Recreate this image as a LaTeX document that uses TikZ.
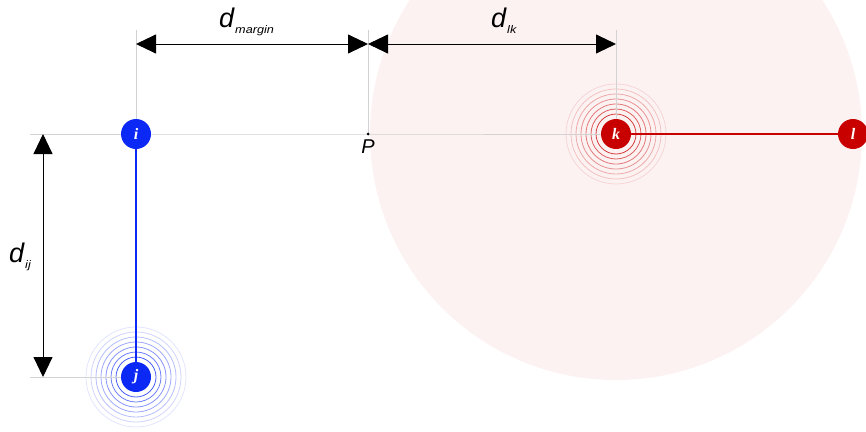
\documentclass[tikz,border=0pt]{standalone}
\usepackage{fontspec}
\setmainfont{Liberation Serif}
\newfontfamily\dimfont{Liberation Sans}
\usetikzlibrary{arrows.meta}
\definecolor{atomblue}{RGB}{12,40,245}
\definecolor{atomred}{RGB}{200,0,0}
\tikzset{
  atom/.style={circle,minimum size=30pt,inner sep=0pt,text=white,
    font=\fontsize{16}{16}\selectfont\bfseries\itshape},
  guide/.style={gray!35,line width=0.7pt},
  dimline/.style={line width=0.9pt,
    {Triangle[length=20pt,width=19pt]}-{Triangle[length=20pt,width=19pt]}},
  dimlabel/.style={inner sep=0pt,anchor=base west,
    font=\dimfont\itshape\fontsize{27}{27}\selectfont},
}
\newcommand{\dsub}[1]{d\kern1pt\raisebox{-6.5pt}{\fontsize{11}{11}\selectfont\scalebox{1.15}[1]{#1}}}
\begin{document}
\begin{tikzpicture}[x=1pt,y=-1pt]
\useasboundingbox (0,0) rectangle (866,431);
\clip (0,0) rectangle (866,431);
% cutoff sphere round k
\fill[atomred,opacity=0.05] (616,134) circle (246);
\foreach \r/\o in {20/0.75,25/0.6,30/0.5,35/0.4,40/0.3,45/0.2,50/0.12}{
  \draw[atomred,opacity=\o,line width=0.8pt] (616,134) circle (\r);
  \draw[atomblue,opacity=\o,line width=0.8pt] (136,377) circle (\r);
}
\node[atom,fill=atomblue] (i) at (136,134) {i};
\node[atom,fill=atomblue] (j) at (136,377) {j};
\node[atom,fill=atomred] (k) at (616,134) {k};
\node[atom,fill=atomred] (l) at (853,134) {l};
\coordinate (P) at (368,134);
% guide lines
\coordinate (left) at (30,134);
\coordinate (leftj) at (30,377);
\coordinate (topi) at (136,30);
\coordinate (topP) at (368,30);
\coordinate (topk) at (616,30);
\draw[guide] (left) -- (i) (i) -- (P) -- (k);
\draw[guide] (leftj) -- (j);
\draw[guide] (topi) -- (i);
\draw[guide] (topP) -- (P);
\draw[guide] (topk) -- (k);
\fill (P) circle (1.5);
\node[inner sep=0pt,font=\dimfont\itshape\fontsize{20}{20}\selectfont,below=6pt] (Plabel) at (P) {P};
% bonds
\draw[atomblue,line width=1.3pt] (i) -- (j);
\draw[atomred,line width=1.3pt] (k) -- (l);
% dimensions
\coordinate (mi) at (136,44);
\coordinate (mP) at (368,44);
\coordinate (mk) at (616,44);
\coordinate (vi) at (43,134);
\coordinate (vj) at (43,377);
\draw[dimline] (mi) -- (mP);
\draw[dimline] (mP) -- (mk);
\draw[dimline] (vi) -- (vj);
\node[dimlabel] (dmargin) at (219,27) {\dsub{margin}};
\node[dimlabel] (dlk) at (491,27) {\dsub{lk}};
\node[dimlabel] (dij) at (9,262) {\dsub{ij}};
\end{tikzpicture}
\end{document}
